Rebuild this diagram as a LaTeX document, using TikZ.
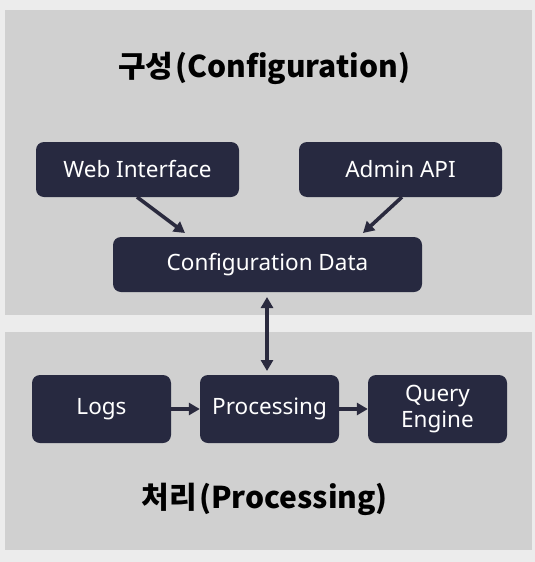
\documentclass[tikz,border=0pt]{standalone}
\usepackage{fontspec}
\setmainfont{Noto Sans}
\newfontfamily\krfont{Noto Sans CJK KR}
\usetikzlibrary{arrows.meta}
\definecolor{pagebg}{HTML}{ECECEC}
\definecolor{panelbg}{HTML}{D0D0D0}
\definecolor{boxbg}{HTML}{272940}
\definecolor{arrowc}{HTML}{2A2A3E}
\tikzset{
  panel/.style={fill=panelbg, draw=none},
  box/.style={fill=boxbg, draw=none, rounded corners=8pt, text=white, font=\fontsize{22.5}{26}\selectfont, align=center, inner sep=0pt},
  tip/.style={-{Triangle[length=11pt,width=12pt]}},
  conn/.style={draw=arrowc, line width=3.6pt, tip},
  title/.style={font=\krfont\bfseries\fontsize{30}{34}\selectfont, text=black},
}
\begin{document}
\begin{tikzpicture}[x=1pt,y=-1pt]
\fill[pagebg] (0,0) rectangle (535,562);
\useasboundingbox (0,0) rectangle (535,562);
\fill[panel] (5,10) rectangle (532,315);
\fill[panel] (5,332) rectangle (532,550);
\node[title] (t1) at (264,68) {구성\kern2pt(Configuration)};
\node[title] (t2) at (265,499) {처리\kern2pt(Processing)};
\node[box, minimum width=203pt, minimum height=55pt] (web) at (137.5,169.5) {Web Interface};
\node[box, minimum width=203pt, minimum height=55pt] (admin) at (400.5,169.5) {Admin API};
\node[box, minimum width=309pt, minimum height=55pt] (cfg) at (267.5,264.5) {Configuration Data};
\node[box, minimum width=139pt, minimum height=68pt] (logs) at (101.5,409) {Logs};
\node[box, minimum width=139pt, minimum height=68pt] (proc) at (269.5,409) {Processing};
\node[box, minimum width=139pt, minimum height=68pt] (qe) at (437.5,409) {Query\\Engine};
\coordinate (w1) at (137,197);
\coordinate (w2) at (185,233);
\coordinate (a1) at (402,197);
\coordinate (a2) at (363,233);
\coordinate (v1) at (267,297);
\coordinate (v2) at (267,371);
\draw[conn] (w1) -- (w2);
\draw[conn] (a1) -- (a2);
\draw[conn, {Triangle[length=11pt,width=12pt]}-{Triangle[length=11pt,width=12pt]}] (v1) -- (v2);
\draw[conn] (logs.east) -- (proc.west);
\draw[conn] (proc.east) -- (qe.west);
\end{tikzpicture}
\end{document}
